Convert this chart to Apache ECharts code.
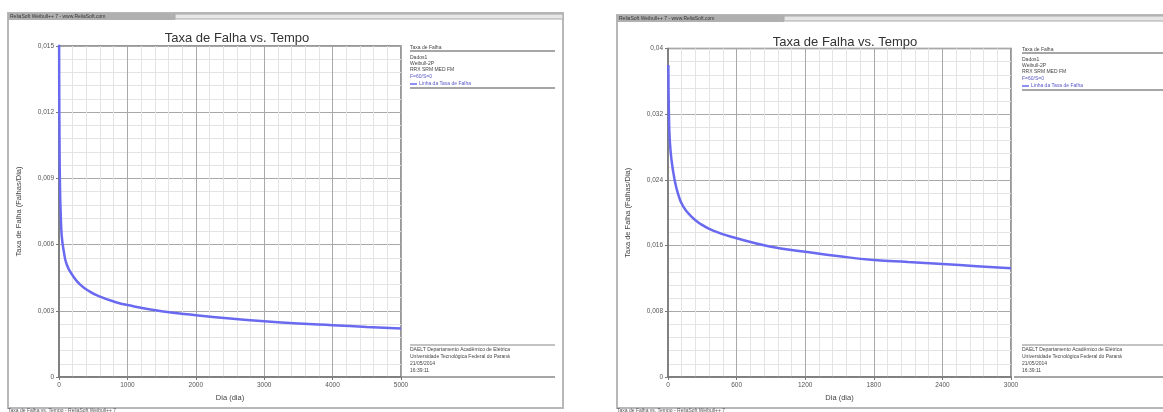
<!DOCTYPE html>
<html>
<head>
<meta charset="utf-8">
<script src="https://cdn.jsdelivr.net/npm/echarts@6/dist/echarts.min.js"></script>
<style>
html,body{margin:0;padding:0;background:#fff;}
#c{width:1163px;height:412px;}
</style>
</head>
<body>
<div id="c"></div>
<script>
// ---- data ----
const titleText = 'Taxa de Falha vs. Tempo';
const xName = 'Dia (dia)';
const yName = 'Taxa de Falha (Falhas/Dia)';

const leftT = [1, 3, 8, 15, 25, 40, 70, 113, 200, 306, 450, 600, 800, 1000, 1500, 2000, 2500, 3000, 3500, 4000, 4500, 5000];
const leftV = [0.0165, 0.0135, 0.0105, 0.0085, 0.0074, 0.0064, 0.0057, 0.0051, 0.0046, 0.0042, 0.00387, 0.00364, 0.00342, 0.00326, 0.00298, 0.0028, 0.00265, 0.00253, 0.00243, 0.00235, 0.00227, 0.0022];
const leftXTicks = [0, 1000, 2000, 3000, 4000, 5000];
const leftYTicks = [0, 0.003, 0.006, 0.009, 0.012, 0.015];

const rightT = [3, 8, 15, 30, 58, 90, 131, 200, 277, 400, 600, 889, 1200, 1500, 1800, 2100, 2400, 2700, 3000];
const rightV = [0.038, 0.032, 0.029, 0.0265, 0.024, 0.0222, 0.0208, 0.0196, 0.0187, 0.0178, 0.0169, 0.0159, 0.01526, 0.0147, 0.01425, 0.0140, 0.01376, 0.0135, 0.01324];
const rightXTicks = [0, 600, 1200, 1800, 2400, 3000];
const rightYTicks = [0, 0.008, 0.016, 0.024, 0.032, 0.04];

const legendLines = ['Taxa de Falha', 'Dados1', 'Weibull-2P', 'RRX SRM MED FM', 'F=60/S=0', 'Linha da Taxa de Falha'];
const infoLines = ['DAELT Departamento Acadêmico de Elétrica', 'Universidade Tecnológica Federal do Paraná', '21/05/2014', '16:39:11'];
const headerText = 'ReliaSoft Weibull++ 7 - www.ReliaSoft.com';
const footerText = 'Taxa de Falha vs. Tempo - ReliaSoft Weibull++ 7';

// ---- chart ----
const chart = echarts.init(document.getElementById('c'));
const fmt = v => String(Number(v.toFixed(4))).replace('.', ',');
const fmtX = v => String(v);
const lineColor = '#6a6af0';

function xAxisOf(idx, ticks) {
  const step = ticks[1] - ticks[0];
  return {
    type: 'value', gridIndex: idx, min: ticks[0], max: ticks[ticks.length - 1], interval: step,
    name: xName, nameLocation: 'middle', nameGap: 17,
    nameTextStyle: {fontSize: 7.5, color: '#444', fontFamily: 'Liberation Sans'},
    axisLine: {lineStyle: {color: '#777', width: 1.5}},
    axisTick: {show: true, length: 3, lineStyle: {color: '#777'}},
    axisLabel: {fontSize: 6.5, color: '#555', margin: 5, formatter: fmtX, fontFamily: 'Liberation Sans'},
    splitLine: {show: true, lineStyle: {color: '#a8a8a8', width: 1}},
    minorTick: {show: true, splitNumber: 5, length: 0},
    minorSplitLine: {show: true, lineStyle: {color: '#e4e4e4', width: 1}}
  };
}
function yAxisOf(idx, ticks, gap) {
  const step = ticks[1] - ticks[0];
  return {
    type: 'value', gridIndex: idx, min: ticks[0], max: ticks[ticks.length - 1], interval: step,
    name: yName, nameLocation: 'middle', nameGap: gap, nameRotate: 90,
    nameTextStyle: {fontSize: 7.5, color: '#444', fontFamily: 'Liberation Sans'},
    axisLine: {lineStyle: {color: '#777', width: 1.5}},
    axisTick: {show: true, length: 3, lineStyle: {color: '#777'}},
    axisLabel: {fontSize: 6.5, color: '#555', margin: 5, formatter: fmt, fontFamily: 'Liberation Sans'},
    splitLine: {show: true, lineStyle: {color: '#a8a8a8', width: 1}},
    minorTick: {show: true, splitNumber: 5, length: 0},
    minorSplitLine: {show: true, lineStyle: {color: '#e4e4e4', width: 1}}
  };
}

const gfx = [];
function panel(x0, y0, w, legendX, legendY) {
  gfx.push({type: 'rect', shape: {x: x0, y: y0, width: w, height: 408 - y0}, style: {fill: 'none', stroke: '#b8b8b8', lineWidth: 2}, z: 10});
  gfx.push({type: 'rect', shape: {x: x0, y: y0, width: 167, height: 7}, style: {fill: '#b0b0b0'}, z: 11});
  gfx.push({type: 'text', x: x0 + 2, y: y0 + 3.5, style: {text: headerText, fontSize: 5, fill: '#333', verticalAlign: 'middle', fontFamily: 'Liberation Sans'}, z: 12});
  gfx.push({type: 'rect', shape: {x: x0 + 167, y: y0 + 1, width: w - 167, height: 5}, style: {fill: '#e6e6e6', stroke: '#aaa', lineWidth: 1}, z: 11});
  // legend block
  gfx.push({type: 'line', shape: {x1: legendX, y1: legendY + 3, x2: legendX + 145, y2: legendY + 3}, style: {stroke: '#888', lineWidth: 1.5}, z: 12});
  const ys = [0, 9.5, 15.5, 22, 28.5, 36];
  legendLines.forEach((t, i) => {
    gfx.push({type: 'text', x: legendX + (i === 5 ? 9 : 0), y: legendY + ys[i], style: {text: t, fontSize: 5, fill: i >= 4 ? '#5858c8' : '#444', verticalAlign: 'middle', fontFamily: 'Liberation Sans'}, z: 12});
  });
  gfx.push({type: 'line', shape: {x1: legendX, y1: legendY + 36, x2: legendX + 7, y2: legendY + 36}, style: {stroke: lineColor, lineWidth: 1.5}, z: 12});
  gfx.push({type: 'line', shape: {x1: legendX, y1: legendY + 40, x2: legendX + 145, y2: legendY + 40}, style: {stroke: '#888', lineWidth: 1.5}, z: 12});
  // info block
  gfx.push({type: 'line', shape: {x1: legendX, y1: 345, x2: legendX + 145, y2: 345}, style: {stroke: '#888', lineWidth: 1.2}, z: 12});
  const iy = [349.5, 357, 363.5, 370.5];
  infoLines.forEach((t, i) => {
    gfx.push({type: 'text', x: legendX, y: iy[i], style: {text: t, fontSize: 5, fill: '#444', verticalAlign: 'middle', fontFamily: 'Liberation Sans'}, z: 12});
  });
  gfx.push({type: 'line', shape: {x1: legendX - 8, y1: 377, x2: legendX + 145, y2: 377}, style: {stroke: '#888', lineWidth: 1.5}, z: 12});
  gfx.push({type: 'text', x: x0, y: 410.5, style: {text: footerText, fontSize: 5, fill: '#555', verticalAlign: 'middle', fontFamily: 'Liberation Sans'}, z: 12});
}
panel(8, 13, 555, 410, 48);
panel(617, 15, 560, 1022, 50);

const option = {
  animation: false,
  backgroundColor: '#fff',
  title: [
    {text: titleText, left: 232, top: 27, textAlign: 'center', textStyle: {fontSize: 13, fontWeight: 'normal', color: '#333', fontFamily: 'Liberation Sans'}},
    {text: titleText, left: 840, top: 31, textAlign: 'center', textStyle: {fontSize: 13, fontWeight: 'normal', color: '#333', fontFamily: 'Liberation Sans'}}
  ],
  grid: [
    {left: 59, top: 46, width: 342, height: 331, show: true, borderColor: '#777', borderWidth: 1.5, backgroundColor: '#fff'},
    {left: 668, top: 48.5, width: 343, height: 328.5, show: true, borderColor: '#777', borderWidth: 1.5, backgroundColor: '#fff'}
  ],
  xAxis: [xAxisOf(0, leftXTicks), xAxisOf(1, rightXTicks)],
  yAxis: [yAxisOf(0, leftYTicks, 36), yAxisOf(1, rightYTicks, 36)],
  series: [
    {type: 'line', xAxisIndex: 0, yAxisIndex: 0, data: leftT.map((t, i) => [t, leftV[i]]), showSymbol: false, smooth: 0.5, clip: true, lineStyle: {color: lineColor, width: 2.5}},
    {type: 'line', xAxisIndex: 1, yAxisIndex: 1, data: rightT.map((t, i) => [t, rightV[i]]), showSymbol: false, smooth: 0.5, clip: true, lineStyle: {color: lineColor, width: 2.5}}
  ],
  graphic: gfx
};
chart.setOption(option);
</script>
</body>
</html>
